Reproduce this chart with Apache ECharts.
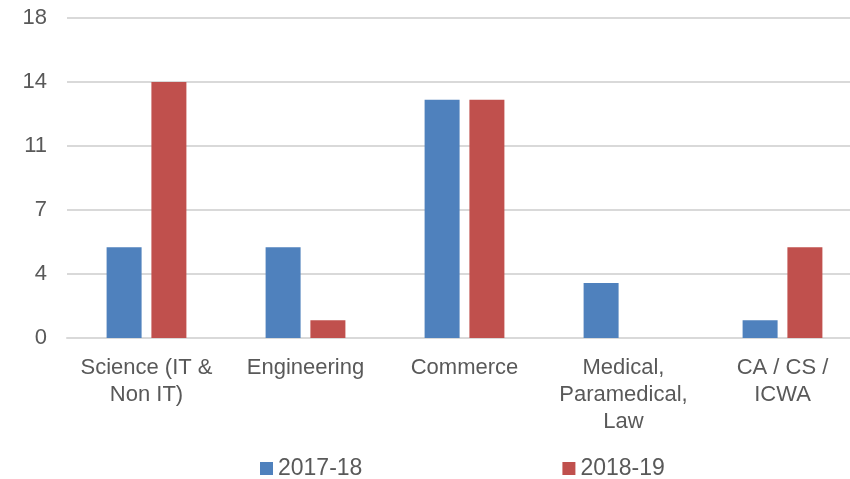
<!DOCTYPE html>
<html lang="en">

<head>
  <meta charset="UTF-8">
  <title>Students by stream</title>
  <script src="https://cdn.jsdelivr.net/npm/echarts@6.0.0/dist/echarts.min.js"></script>
  <style>
    body {
      margin: 0;
      padding: 0;
      background-color: #ffffff;
    }

    #chart {
      width: 850px;
      height: 479px;
    }
  </style>
</head>

<body>
  <div id="chart"></div>

  <script>
    // categories and values
    const categories = ['Science (IT &\nNon IT)', 'Engineering', 'Commerce', 'Medical,\nParamedical,\nLaw', 'CA / CS /\nICWA'];
    const seriesNames = ['2017-18', '2018-19'];
    const values1718 = [5.1, 5.1, 13.4, 3.1, 1.0];
    const values1819 = [14.4, 1.0, 13.4, 0, 5.1];

    const textColor = '#595959';
    const gridColor = '#d9d9d9';
    const font = 'Liberation Sans, Arial, sans-serif';

    const chart = echarts.init(document.getElementById('chart'));

    const option = {
      animation: false,
      color: ['#4f81bd', '#c0504d'],
      grid: {
        left: 67,
        right: -12, // plot area runs past the right edge, as in the original
        top: 18,
        bottom: 141,
        outerBoundsMode: 'none'
      },
      legend: {
        data: seriesNames,
        left: 255,
        top: 452,
        itemWidth: 13,
        itemHeight: 13,
        itemGap: 200,
        icon: 'rect',
        textStyle: {
          color: textColor,
          fontSize: 23,
          fontFamily: font
        }
      },
      xAxis: {
        type: 'category',
        data: categories,
        axisLine: { lineStyle: { color: gridColor, width: 2 } },
        axisTick: { show: false },
        axisLabel: {
          color: textColor,
          fontSize: 22,
          fontFamily: font,
          lineHeight: 27,
          margin: 16,
          interval: 0
        }
      },
      yAxis: {
        type: 'value',
        min: 0,
        max: 18,
        interval: 3.6,
        axisLine: { show: false },
        axisTick: { show: false },
        splitLine: { lineStyle: { color: gridColor, width: 2 } },
        axisLabel: {
          color: textColor,
          fontSize: 22,
          fontFamily: font,
          margin: 20,
          formatter: v => Math.round(v)
        }
      },
      series: [
        {
          name: seriesNames[0],
          type: 'bar',
          data: values1718,
          barWidth: 35,
          barGap: '28%'
        },
        {
          name: seriesNames[1],
          type: 'bar',
          data: values1819,
          barWidth: 35,
          barGap: '28%'
        }
      ]
    };

    chart.setOption(option);
  </script>
</body>

</html>
